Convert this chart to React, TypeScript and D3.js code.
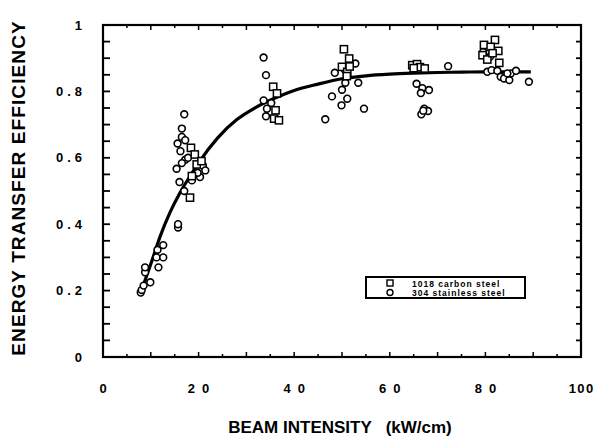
import React from "react";
import * as d3 from "d3";

const carbonX = [18.4, 19.2, 19.6, 18.6, 18.2, 20.6, 35.6, 36.4, 36.1, 35.8, 36.8, 50.4, 51.5, 50.0, 51.1, 51.0, 51.6, 64.7, 65.7, 66.3, 67.3, 65.0, 82.0, 79.7, 81.1, 82.7, 79.4, 80.4, 82.9, 81.5];
const carbonY = [0.63, 0.61, 0.58, 0.545, 0.48, 0.59, 0.814, 0.794, 0.743, 0.718, 0.713, 0.927, 0.899, 0.874, 0.859, 0.846, 0.875, 0.879, 0.882, 0.873, 0.869, 0.87, 0.955, 0.94, 0.934, 0.922, 0.909, 0.896, 0.886, 0.915];

const stainlessX = [7.9, 8.1, 8.5, 9.9, 8.8, 8.8, 11.6, 11.2, 12.6, 11.4, 12.6, 15.7, 15.7,
  17.0, 16.5, 16.5, 15.6, 17.2, 17.2, 16.5, 15.4, 16.0, 17.0, 20.9, 21.4, 18.6, 20.3, 19.8, 17.8, 16.2,
  33.6, 34.1, 33.6, 35.2, 34.3, 34.1,
  46.5, 52.8, 48.5, 50.7, 53.4, 50.0, 47.9, 51.1, 49.9, 54.6, 50.6,
  72.2, 65.6, 66.8, 68.2, 66.5, 67.2, 68.0, 66.6, 67.0,
  80.4, 81.3, 82.5, 83.2, 83.9, 85.0, 85.3, 86.4, 84.6, 89.1, 79.5, 81.0];
const stainlessY = [0.194, 0.202, 0.215, 0.225, 0.255, 0.27, 0.27, 0.30, 0.30, 0.323, 0.337, 0.39, 0.40,
  0.731, 0.688, 0.663, 0.643, 0.653, 0.594, 0.584, 0.567, 0.527, 0.50, 0.577, 0.562, 0.532, 0.542, 0.555, 0.60, 0.62,
  0.902, 0.849, 0.773, 0.765, 0.748, 0.725,
  0.716, 0.884, 0.856, 0.826, 0.826, 0.805, 0.785, 0.778, 0.758, 0.748, 0.865,
  0.876, 0.823, 0.81, 0.804, 0.795, 0.748, 0.741, 0.731, 0.742,
  0.859, 0.864, 0.862, 0.844, 0.839, 0.834, 0.854, 0.862, 0.854, 0.829, 0.918, 0.905];

const fitX = [7.8, 10, 12, 14, 16, 18, 20, 24, 28, 32, 36, 40, 45, 50, 55, 60, 65, 70, 75, 80, 85, 89.5];
const fitY = [0.19, 0.28, 0.365, 0.435, 0.492, 0.54, 0.585, 0.66, 0.715, 0.752, 0.78, 0.803, 0.822, 0.838, 0.847, 0.852, 0.855, 0.857, 0.858, 0.859, 0.859, 0.859];

const xTickValues = [0, 20, 40, 60, 80, 100];
const xTickLabels = ["0", "20", "40", "60", "80", "100"];
const yTickValues = [0, 0.2, 0.4, 0.6, 0.8, 1];
const yTickLabels = ["0", "0.2", "0.4", "0.6", "0.8", "1"];
const legendLabels = ["1018 carbon steel", "304 stainless steel"];

const W = 601, H = 442;
const L = 103, R = 581, T = 25, B = 357;
const FONT = "'Liberation Sans', Arial, Helvetica, sans-serif";

export default function App() {
  const x = d3.scaleLinear().domain([0, 100]).range([L, R]);
  const y = d3.scaleLinear().domain([0, 1]).range([B, T]);
  const line = d3.line<number>().x((d, i) => x(fitX[i])).y((d, i) => y(fitY[i])).curve(d3.curveMonotoneX);

  const xMinor = d3.range(0, 101, 5);
  const yMinor = d3.range(0, 1.0001, 0.05);

  return (
    <svg width={W} height={H} style={{ position: "absolute", left: 0, top: 0, background: "#fff" }} fontFamily={FONT}>
      <rect x={0} y={0} width={W} height={H} fill="#fff" />
      {xMinor.map((v) => {
        const major = v % 10 === 0;
        return (
          <g key={"xt" + v}>
            <line x1={x(v)} x2={x(v)} y1={B} y2={B - (major ? 5 : 3)} stroke="#000" strokeWidth={1.5} />
            <line x1={x(v)} x2={x(v)} y1={T} y2={T + (major ? 5 : 3)} stroke="#000" strokeWidth={1.5} />
          </g>
        );
      })}
      {yMinor.map((v, i) => (
        <g key={"yt" + i}>
          <line x1={L} x2={L + 7} y1={y(v)} y2={y(v)} stroke="#000" strokeWidth={1.8} />
          <line x1={R} x2={R - 5} y1={y(v)} y2={y(v)} stroke="#000" strokeWidth={1.8} />
        </g>
      ))}
      <rect x={L} y={T} width={R - L} height={B - T} fill="none" stroke="#000" strokeWidth={2.2} />
      {yTickValues.map((v, i) => (
        <text key={"yl" + i} x={86} y={y(v)} dy="0.36em" textAnchor="end" fontSize={13} fontWeight="bold" letterSpacing={4}>
          {yTickLabels[i]}
        </text>
      ))}
      {xTickValues.map((v, i) => {
        const lab = xTickLabels[i];
        const ls = lab.length === 2 ? 7 : lab.length === 3 ? 1.5 : 0;
        return (
          <text key={"xl" + i} x={x(v) + ls / 2} y={388} dy="0.36em" textAnchor="middle" fontSize={13} fontWeight="bold" letterSpacing={ls}>
            {lab}
          </text>
        );
      })}
      <text x={340} y={427} dy="0.36em" textAnchor="middle" fontSize={17} fontWeight="bold" style={{ whiteSpace: "pre" }}>
        {"BEAM INTENSITY   (kW/cm)"}
      </text>
      <text transform={`translate(25,${188}) rotate(-90)`} textAnchor="middle" fontSize={19} fontWeight="bold" letterSpacing={1.1}>
        ENERGY TRANSFER EFFICIENCY
      </text>
      <path d={line(fitX) || ""} fill="none" stroke="#000" strokeWidth={3.2} />
      {stainlessX.map((v, i) => (
        <circle key={"s" + i} cx={x(v)} cy={y(stainlessY[i])} r={3.4} fill="#fff" stroke="#000" strokeWidth={1.6} />
      ))}
      {carbonX.map((v, i) => (
        <rect key={"c" + i} x={x(v) - 3.6} y={y(carbonY[i]) - 3.6} width={7.2} height={7.2} fill="#fff" stroke="#000" strokeWidth={1.5} />
      ))}
      <g>
        <rect x={366} y={277} width={159} height={21} fill="#fff" stroke="#000" strokeWidth={2} />
        <rect x={387} y={280} width={6} height={6} fill="#fff" stroke="#000" strokeWidth={1.4} />
        <circle cx={390} cy={292.5} r={3} fill="#fff" stroke="#000" strokeWidth={1.4} />
        <text x={412} y={283.5} dy="0.36em" fontSize={8.5} fontWeight="bold" letterSpacing={1}>{legendLabels[0]}</text>
        <text x={412} y={292.5} dy="0.36em" fontSize={8.5} fontWeight="bold" letterSpacing={1}>{legendLabels[1]}</text>
      </g>
    </svg>
  );
}
